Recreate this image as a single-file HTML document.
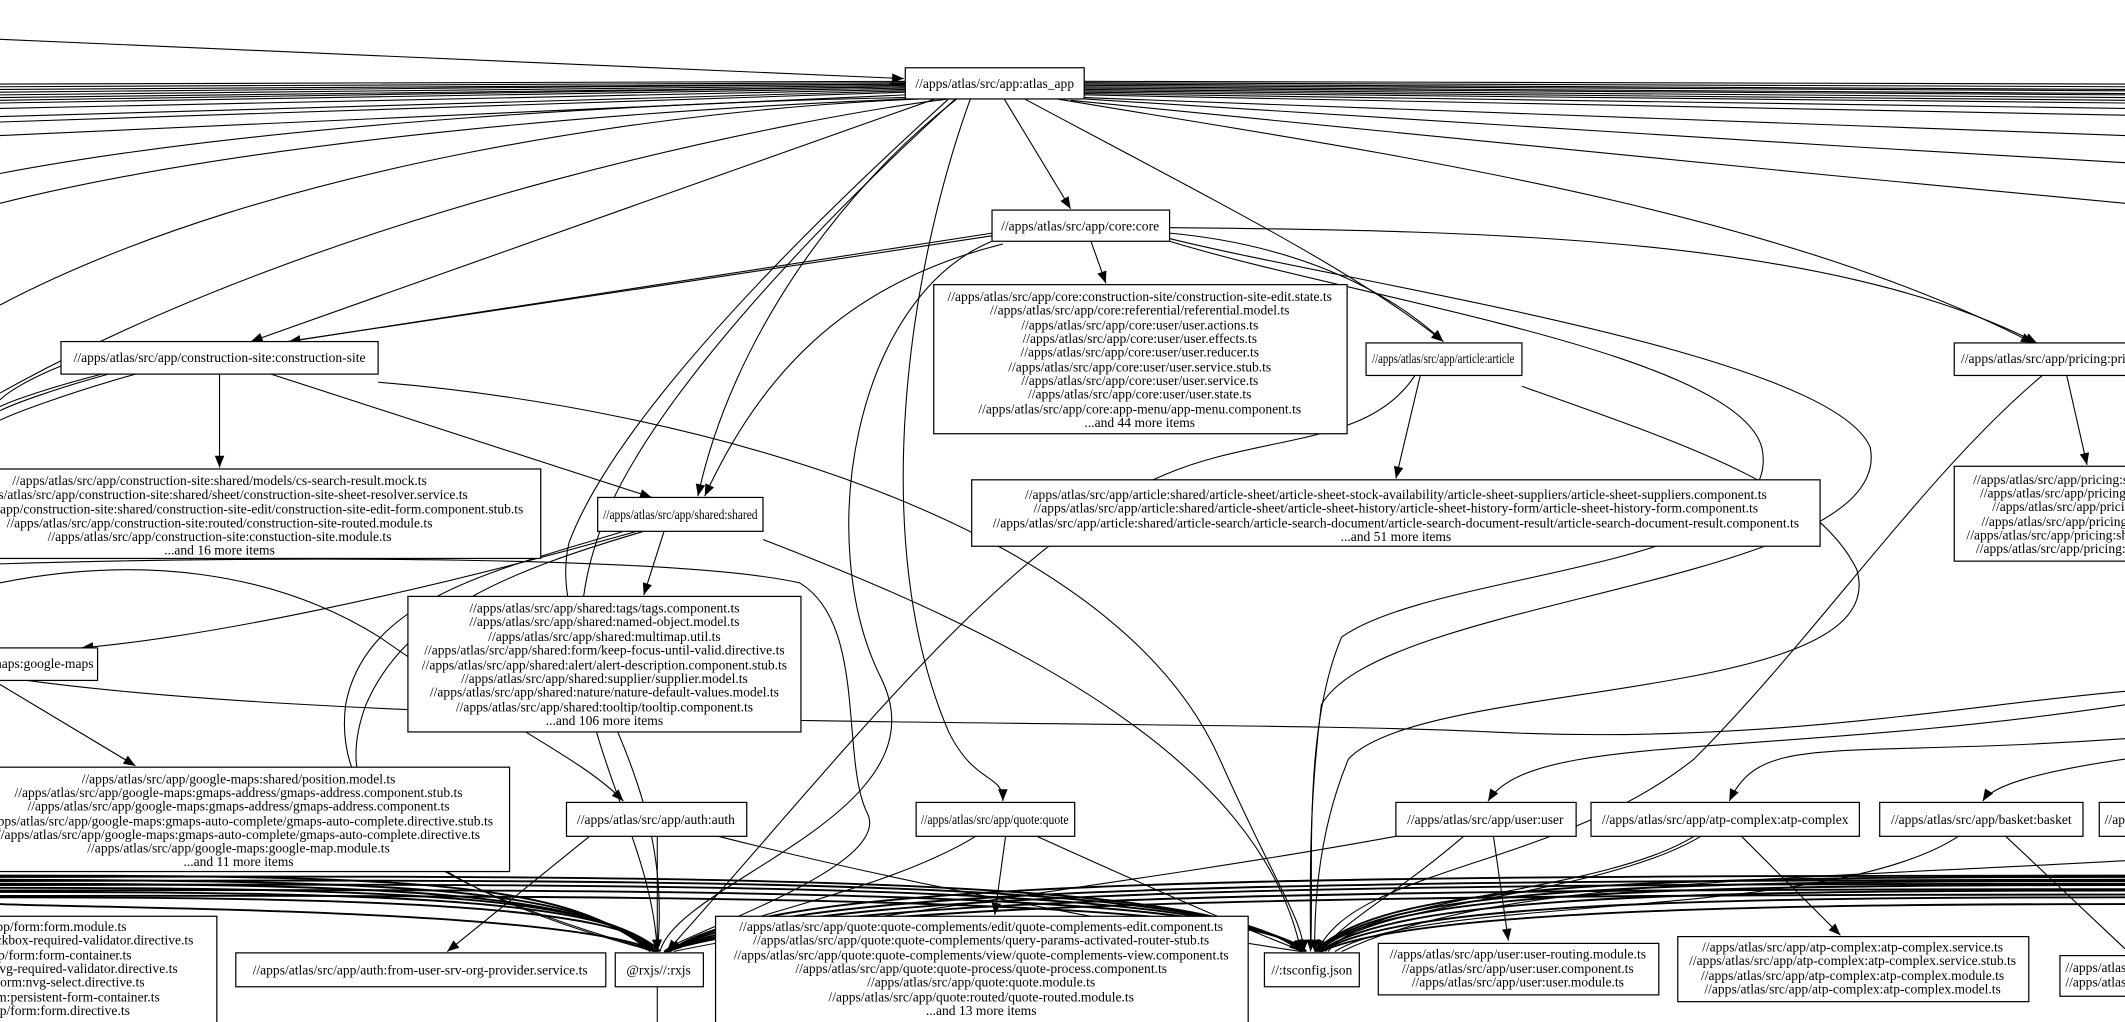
<!DOCTYPE html>
<html><head><meta charset="utf-8"><style>
html,body{margin:0;padding:0;background:#fff;overflow:hidden}
svg{display:block}
text{font-family:"Liberation Serif",serif;font-size:10px;fill:#000}
.b{fill:#fff;stroke:#000;stroke-width:0.9}
.e{fill:none;stroke:#000;stroke-width:0.8}
.t{stroke-width:1.4}
</style></head><body>
<svg width="2125" height="1022" viewBox="0 0 1568 754" preserveAspectRatio="none" xmlns="http://www.w3.org/2000/svg">
<defs><marker id="a" viewBox="0 0 10 8" refX="10" refY="4" markerWidth="9" markerHeight="7" markerUnits="userSpaceOnUse" orient="auto"><path d="M0,0L10,4L0,8z" fill="#000"/></marker></defs>

<path class="e" d="M0,29 L667,58" marker-end="url(#a)"/>
<g class="e">
<path d="M0,62 L668,60"/><path d="M0,64 L668,61"/><path d="M0,66 L668,62"/><path d="M0,68 L668,62"/>
<path d="M0,70 L668,63"/><path d="M0,72 L668,64"/><path d="M0,74 L668,64"/><path d="M0,76 L668,65"/>
<path d="M0,80 L668,66"/><path d="M0,86 L668,67"/><path d="M0,90 L668,68"/><path d="M0,100 L668,70"/>
<path d="M0,128 C200,90 500,75 668,72"/><path d="M0,150 C200,100 500,80 670,73"/>
<path d="M0,225 C200,120 500,80 680,73"/>
<path d="M0,290 C250,150 600,85 700,73"/>
</g>
<g class="e">
<path d="M800,60 L1568,62"/><path d="M800,61 L1568,64"/><path d="M800,62 L1568,66"/><path d="M800,63 L1568,67"/>
<path d="M800,64 L1568,69"/><path d="M800,65 L1568,70"/><path d="M800,66 L1568,72"/><path d="M800,67 L1568,74"/>
<path d="M800,68 L1568,76"/><path d="M800,69 L1568,80"/><path d="M800,70 L1568,85"/>
<path d="M800,72 C1000,80 1300,90 1568,100"/><path d="M800,73 C1000,85 1300,105 1568,120"/>
<path d="M790,74 C1000,95 1300,125 1568,150"/>
<path d="M780,73 C1000,110 1300,150 1500,253" marker-end="url(#a)"/>
</g>
<g class="e">
<path d="M690,73 C500,140 300,210 185,252" marker-end="url(#a)"/>
<path d="M741,73 L790,154" marker-end="url(#a)"/>
<path d="M756,73 C900,150 1000,200 1065,252" marker-end="url(#a)"/>
<path d="M706,73 C620,140 540,250 515,366" marker-end="url(#a)"/>
<path d="M716,73 C670,200 640,400 700,540 C720,580 740,570 740,591" marker-end="url(#a)"/>
<path d="M705,73 C620,150 470,300 440,400 C400,520 480,600 485,702" marker-end="url(#a)"/>
<path d="M700,73 C560,200 450,320 420,400 C400,480 500,560 485,702"/>
</g>
<g class="e">
<path d="M732,172 L213,252" marker-end="url(#a)"/>
<path d="M732,174 L212,252"/>
<path d="M805,178 L816,209" marker-end="url(#a)"/>
<path d="M863,172 C950,180 1020,210 1065,252" marker-end="url(#a)"/>
<path d="M863,168 C1100,170 1350,175 1503,253" marker-end="url(#a)"/>
<path d="M740,180 C620,210 560,280 520,366" marker-end="url(#a)"/>
<path d="M732,178 C630,220 600,400 650,500 C700,600 500,650 487,702"/>
<path d="M863,178 C1000,220 1280,260 1300,330 C1320,420 1060,420 990,470 C960,540 970,650 967,702" marker-end="url(#a)"/>
<path d="M863,176 C1000,210 1350,260 1380,330 C1400,430 1020,440 975,520 C965,600 967,660 967,702"/>
</g>
<g class="e">
<path d="M162,276 L162,345" marker-end="url(#a)"/>
<path d="M200,276 L481,367" marker-end="url(#a)"/>
<path d="M279,282 C500,300 820,380 900,560 C940,650 962,680 962,702" marker-end="url(#a)"/>
<path d="M45,270 C20,280 5,290 0,295"/><path d="M75,276 C40,285 10,295 0,300"/>
<path d="M80,276 C40,287 10,298 0,303"/><path d="M100,276 C50,290 10,305 0,310"/>
</g>
<g class="e">
<path d="M1048,277 L1030,353" marker-end="url(#a)"/>
<path d="M1044,277 C1010,330 930,320 860,350 C740,400 620,560 492,702" marker-end="url(#a)"/>
<path d="M1123,285 C1250,330 1340,360 1370,420 C1400,520 1050,500 995,560 C970,620 970,680 970,702" marker-end="url(#a)"/>
</g>
<g class="e">
<path d="M1525,277 L1540,343" marker-end="url(#a)"/>
<path d="M1507,277 C1420,350 1340,470 1250,560 C1150,640 1000,640 972,702" marker-end="url(#a)"/>
</g>
<g class="e">
<path d="M490,392 L475,439" marker-end="url(#a)"/>
<path d="M470,392 C300,440 150,470 60,478" marker-end="url(#a)"/>
<path d="M475,392 C380,420 300,450 270,520 C240,600 300,650 485,702"/>
<path d="M460,392 C370,420 270,440 255,520 C245,600 320,660 484,702"/>
<path d="M563,398 C750,470 930,560 960,702" marker-end="url(#a)"/>
<path d="M0,430 C100,410 200,420 280,470 C380,540 430,560 460,591" marker-end="url(#a)"/>
<path d="M0,416 C200,410 500,410 590,430 C640,460 620,560 640,600 C660,640 500,690 490,702"/>
</g>
<g class="e">
<path d="M0,505 L100,565" marker-end="url(#a)"/>
<path d="M20,502 C300,540 900,530 1100,540 C1300,550 1450,520 1568,510"/>
</g>
<g class="e">
<path d="M485,617 L485,702" marker-end="url(#a)"/>
<path d="M485,754 L485,728"/>
<path d="M435,617 L330,702" marker-end="url(#a)"/>
<path d="M530,617 C700,660 880,690 960,702"/>
<path d="M742,617 L734,675" marker-end="url(#a)"/>
<path d="M720,617 C650,660 520,680 495,702"/>
<path d="M765,617 C860,660 930,690 962,702"/>
<path d="M1102,617 L1113,694" marker-end="url(#a)"/>
<path d="M1080,617 C1030,660 990,680 975,702"/>
<path d="M1030,617 C850,650 600,680 497,702"/>
<path d="M1285,617 L1358,690" marker-end="url(#a)"/>
<path d="M1250,617 C1180,660 1010,660 980,702"/>
<path d="M1255,617 C1180,662 1010,665 978,702"/>
<path d="M1445,617 C1350,680 1050,660 985,702"/>
<path d="M1480,617 L1568,700"/>
<path d="M1568,520 C1300,560 1130,540 1098,591" marker-end="url(#a)"/>
<path d="M1568,545 C1350,560 1300,540 1276,591" marker-end="url(#a)"/>
<path d="M1568,560 C1500,570 1470,580 1463,591" marker-end="url(#a)"/>
<path d="M1568,635 C1300,650 1100,650 990,702"/>
</g>
<g class="e t">
<path d="M0,646 C300,646 420,650 480,702" marker-end="url(#a)"/>
<path d="M0,649 C300,650 430,655 482,702"/>
<path d="M0,652 C300,652 440,660 483,702"/>
<path d="M0,655 C300,655 450,662 484,702"/>
<path d="M0,658 C300,658 455,665 486,702"/>
<path d="M0,662 C300,662 460,670 487,702"/>
<path d="M0,667 C60,670 420,670 485,702"/>
<path d="M1568,646 C900,646 560,650 494,702" marker-end="url(#a)"/>
<path d="M1568,649 C900,650 570,655 493,702"/>
<path d="M1568,652 C900,652 580,660 492,702"/>
<path d="M1568,656 C900,656 590,664 491,702"/>
<path d="M1568,660 C900,660 600,668 490,702"/>
<path d="M0,647 C600,645 900,650 960,702" marker-end="url(#a)"/>
<path d="M0,650 C600,648 900,652 961,702"/>
<path d="M0,653 C600,651 910,656 962,702"/>
<path d="M0,657 C600,655 920,660 963,702"/>
<path d="M0,661 C600,660 930,665 964,702"/>
<path d="M1568,647 C1200,647 1020,652 970,702" marker-end="url(#a)"/>
<path d="M1568,650 C1200,650 1020,656 971,702"/>
<path d="M1568,653 C1200,653 1020,660 972,702"/>
<path d="M1568,657 C1200,657 1030,664 973,702"/>
<path d="M1568,662 C1200,662 1030,670 974,702"/>
<path d="M1568,667 C1300,667 1040,672 975,702"/>
</g>

<rect class="b" x="668" y="50" width="132" height="23"/><text x="734" y="65" text-anchor="middle">//apps/atlas/src/app:atlas_app</text>
<rect class="b" x="732" y="155" width="131" height="23"/><text x="797" y="170" text-anchor="middle">//apps/atlas/src/app/core:core</text>
<rect class="b" x="689" y="210" width="305" height="110"/>
<g text-anchor="middle"><text x="841" y="222">//apps/atlas/src/app/core:construction-site/construction-site-edit.state.ts</text><text x="841" y="232">//apps/atlas/src/app/core:referential/referential.model.ts</text><text x="841" y="243">//apps/atlas/src/app/core:user/user.actions.ts</text><text x="841" y="253">//apps/atlas/src/app/core:user/user.effects.ts</text><text x="841" y="263">//apps/atlas/src/app/core:user/user.reducer.ts</text><text x="841" y="274">//apps/atlas/src/app/core:user/user.service.stub.ts</text><text x="841" y="284">//apps/atlas/src/app/core:user/user.service.ts</text><text x="841" y="294">//apps/atlas/src/app/core:user/user.state.ts</text><text x="841" y="305">//apps/atlas/src/app/core:app-menu/app-menu.component.ts</text><text x="841" y="315">...and 44 more items</text></g>

<rect class="b" x="45" y="252" width="234" height="24"/><text x="162" y="267" text-anchor="middle">//apps/atlas/src/app/construction-site:construction-site</text>
<rect class="b" x="-75" y="346" width="474" height="66"/>
<g text-anchor="middle"><text x="162" y="358">//apps/atlas/src/app/construction-site:shared/models/cs-search-result.mock.ts</text><text x="162" y="368">//apps/atlas/src/app/construction-site:shared/sheet/construction-site-sheet-resolver.service.ts</text><text x="162" y="379">//apps/atlas/src/app/construction-site:shared/construction-site-edit/construction-site-edit-form.component.stub.ts</text><text x="162" y="389">//apps/atlas/src/app/construction-site:routed/construction-site-routed.module.ts</text><text x="162" y="399">//apps/atlas/src/app/construction-site:constuction-site.module.ts</text><text x="162" y="409">...and 16 more items</text></g>

<rect class="b" x="1008" y="253" width="115" height="24"/><text x="1065" y="268" text-anchor="middle" textLength="105" lengthAdjust="spacingAndGlyphs">//apps/atlas/src/app/article:article</text>
<rect class="b" x="717" y="354" width="626" height="49"/>
<g text-anchor="middle"><text x="1030" y="368">//apps/atlas/src/app/article:shared/article-sheet/article-sheet-stock-availability/article-sheet-suppliers/article-sheet-suppliers.component.ts</text><text x="1030" y="378">//apps/atlas/src/app/article:shared/article-sheet/article-sheet-history/article-sheet-history-form/article-sheet-history-form.component.ts</text><text x="1030" y="389">//apps/atlas/src/app/article:shared/article-search/article-search-document/article-search-document-result/article-search-document-result.component.ts</text><text x="1030" y="399">...and 51 more items</text></g>

<rect class="b" x="1442" y="253" width="160" height="24"/><text x="1447" y="268">//apps/atlas/src/app/pricing:pricing</text>
<rect class="b" x="1442" y="344" width="200" height="70"/>
<g><text x="1456" y="357">//apps/atlas/src/app/pricing:shared/pricing.model.ts</text><text x="1461" y="367">//apps/atlas/src/app/pricing:pricing.service.ts</text><text x="1470" y="377">//apps/atlas/src/app/pricing.module.ts</text><text x="1462" y="388">//apps/atlas/src/app/pricing:pricing.effects.ts</text><text x="1451" y="398">//apps/atlas/src/app/pricing:shared/price.ts</text><text x="1458" y="408">//apps/atlas/src/app/pricing:pricing.state.ts</text></g>

<rect class="b" x="441" y="367" width="122" height="25"/><text x="502" y="383" text-anchor="middle" textLength="114" lengthAdjust="spacingAndGlyphs">//apps/atlas/src/app/shared:shared</text>
<rect class="b" x="301" y="440" width="290" height="100"/>
<g text-anchor="middle"><text x="446" y="452">//apps/atlas/src/app/shared:tags/tags.component.ts</text><text x="446" y="462">//apps/atlas/src/app/shared:named-object.model.ts</text><text x="446" y="473">//apps/atlas/src/app/shared:multimap.util.ts</text><text x="446" y="483">//apps/atlas/src/app/shared:form/keep-focus-until-valid.directive.ts</text><text x="446" y="494">//apps/atlas/src/app/shared:alert/alert-description.component.stub.ts</text><text x="446" y="504">//apps/atlas/src/app/shared:supplier/supplier.model.ts</text><text x="446" y="514">//apps/atlas/src/app/shared:nature/nature-default-values.model.ts</text><text x="446" y="525">//apps/atlas/src/app/shared:tooltip/tooltip.component.ts</text><text x="446" y="535">...and 106 more items</text></g>

<rect class="b" x="-130" y="478" width="202" height="24"/><text x="69" y="493" text-anchor="end">//apps/atlas/src/app/google-maps:google-maps</text>
<rect class="b" x="-40" y="566" width="416" height="77"/>
<g text-anchor="middle"><text x="176" y="578">//apps/atlas/src/app/google-maps:shared/position.model.ts</text><text x="176" y="588">//apps/atlas/src/app/google-maps:gmaps-address/gmaps-address.component.stub.ts</text><text x="176" y="598">//apps/atlas/src/app/google-maps:gmaps-address/gmaps-address.component.ts</text><text x="176" y="609">//apps/atlas/src/app/google-maps:gmaps-auto-complete/gmaps-auto-complete.directive.stub.ts</text><text x="176" y="619">//apps/atlas/src/app/google-maps:gmaps-auto-complete/gmaps-auto-complete.directive.ts</text><text x="176" y="629">//apps/atlas/src/app/google-maps:google-map.module.ts</text><text x="176" y="639">...and 11 more items</text></g>

<rect class="b" x="418" y="592" width="133" height="25"/><text x="484" y="608" text-anchor="middle">//apps/atlas/src/app/auth:auth</text>
<rect class="b" x="676" y="592" width="117" height="25"/><text x="734" y="608" text-anchor="middle" textLength="109" lengthAdjust="spacingAndGlyphs">//apps/atlas/src/app/quote:quote</text>
<rect class="b" x="1030" y="592" width="133" height="25"/><text x="1096" y="608" text-anchor="middle">//apps/atlas/src/app/user:user</text>
<rect class="b" x="1174" y="592" width="198" height="25"/><text x="1273" y="608" text-anchor="middle">//apps/atlas/src/app/atp-complex:atp-complex</text>
<rect class="b" x="1387" y="592" width="150" height="25"/><text x="1462" y="608" text-anchor="middle">//apps/atlas/src/app/basket:basket</text>
<rect class="b" x="1549" y="592" width="100" height="25"/><text x="1553" y="608">//apps/atlas/src/app/</text>

<rect class="b" x="-200" y="676" width="360" height="90"/>
<g text-anchor="middle"><text x="12" y="687">//apps/atlas/src/app/form:form.module.ts</text><text x="12" y="697">//apps/atlas/src/app/form:checkbox-required-validator.directive.ts</text><text x="12" y="708">//apps/atlas/src/app/form:form-container.ts</text><text x="12" y="718">//apps/atlas/src/app/form:nvg-required-validator.directive.ts</text><text x="12" y="728">//apps/atlas/src/app/form:nvg-select.directive.ts</text><text x="12" y="739">//apps/atlas/src/app/form:persistent-form-container.ts</text><text x="12" y="749">//apps/atlas/src/app/form:form.directive.ts</text></g>

<rect class="b" x="174" y="703" width="273" height="25"/><text x="310" y="719" text-anchor="middle">//apps/atlas/src/app/auth:from-user-srv-org-provider.service.ts</text>
<rect class="b" x="454" y="703" width="65" height="25"/><text x="486" y="719" text-anchor="middle">@rxjs//:rxjs</text>
<rect class="b" x="528" y="676" width="393" height="90"/>
<g text-anchor="middle"><text x="724" y="687">//apps/atlas/src/app/quote:quote-complements/edit/quote-complements-edit.component.ts</text><text x="724" y="697">//apps/atlas/src/app/quote:quote-complements/query-params-activated-router-stub.ts</text><text x="724" y="708">//apps/atlas/src/app/quote:quote-complements/view/quote-complements-view.component.ts</text><text x="724" y="718">//apps/atlas/src/app/quote:quote-process/quote-process.component.ts</text><text x="724" y="728">//apps/atlas/src/app/quote:quote.module.ts</text><text x="724" y="739">//apps/atlas/src/app/quote:routed/quote-routed.module.ts</text><text x="724" y="749">...and 13 more items</text></g>
<rect class="b" x="933" y="703" width="70" height="25"/><text x="968" y="719" text-anchor="middle">//:tsconfig.json</text>
<rect class="b" x="1017" y="696" width="207" height="38"/>
<g text-anchor="middle"><text x="1120" y="707">//apps/atlas/src/app/user:user-routing.module.ts</text><text x="1120" y="718">//apps/atlas/src/app/user:user.component.ts</text><text x="1120" y="728">//apps/atlas/src/app/user:user.module.ts</text></g>
<rect class="b" x="1238" y="691" width="259" height="48"/>
<g text-anchor="middle"><text x="1367" y="702">//apps/atlas/src/app/atp-complex:atp-complex.service.ts</text><text x="1367" y="712">//apps/atlas/src/app/atp-complex:atp-complex.service.stub.ts</text><text x="1367" y="723">//apps/atlas/src/app/atp-complex:atp-complex.module.ts</text><text x="1367" y="733">//apps/atlas/src/app/atp-complex:atp-complex.model.ts</text></g>
<rect class="b" x="1520" y="705" width="120" height="30"/>
<text x="1524" y="717">//apps/atlas/src/app/basket:basket.module.ts</text><text x="1524" y="728">//apps/atlas/src/app/basket:basket.component.ts</text>
</svg>
</body></html>
